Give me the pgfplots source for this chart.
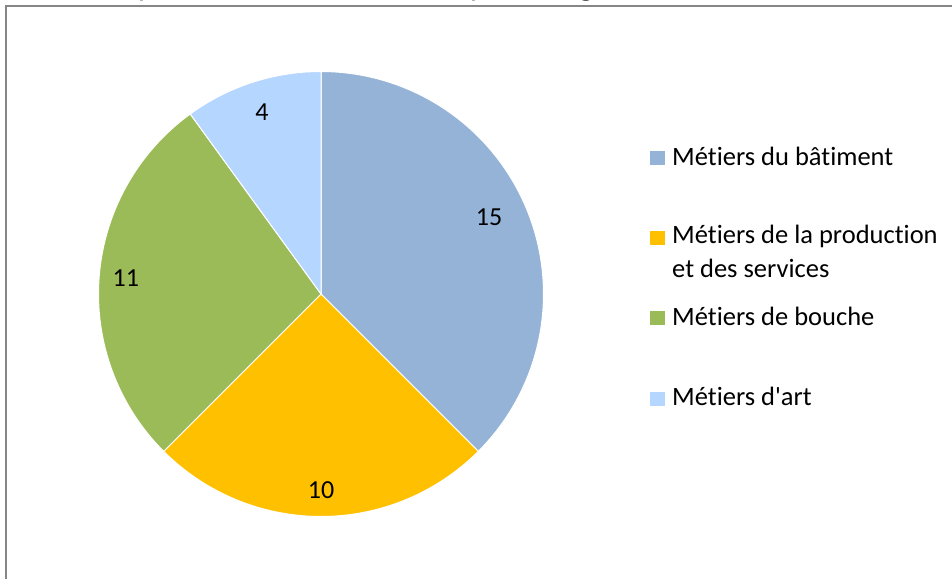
\documentclass[border=0pt]{standalone}
\usepackage{fontspec}
\setmainfont{Carlito}[Ligatures={TeXOff,CommonOff}]
\usepackage{pgfplots}
\usepackage{pgfplotstable}
\pgfplotsset{compat=1.18}
\definecolor{cA}{RGB}{149,179,215}
\definecolor{cB}{RGB}{255,192,0}
\definecolor{cC}{RGB}{155,187,89}
\definecolor{cD}{RGB}{181,214,255}
\definecolor{frame}{RGB}{134,134,134}

\pgfplotstableread{
cat value
A 15
B 10
C 11
D 4
}\datatable

\pgfplotstablegetelem{0}{value}\of\datatable \let\va\pgfplotsretval
\pgfplotstablegetelem{1}{value}\of\datatable \let\vb\pgfplotsretval
\pgfplotstablegetelem{2}{value}\of\datatable \let\vc\pgfplotsretval
\pgfplotstablegetelem{3}{value}\of\datatable \let\vd\pgfplotsretval
\pgfmathsetmacro\total{\va+\vb+\vc+\vd}
\pgfmathsetmacro\aA{90}
\pgfmathsetmacro\aB{\aA-360*\va/\total}
\pgfmathsetmacro\aC{\aB-360*\vb/\total}
\pgfmathsetmacro\aD{\aC-360*\vc/\total}
\pgfmathsetmacro\aE{\aD-360*\vd/\total}
\pgfmathsetmacro\mA{(\aA+\aB)/2+2}
\pgfmathsetmacro\mB{(\aB+\aC)/2}
\pgfmathsetmacro\mC{(\aC+\aD)/2}
\pgfmathsetmacro\mD{(\aD+\aE)/2}

\begin{document}
\begin{tikzpicture}
\useasboundingbox (0bp,0bp) rectangle (952bp,579bp);
\draw[frame, line width=2bp] (6bp,-20bp) -- (6bp,573bp) -- (990bp,573bp);
\node[anchor=base west, inner sep=0pt, font=\fontsize{33bp}{40bp}\selectfont] at (104bp,583.5bp)
  {Répartition des formations par catégorie de métiers (en nombre)};
\begin{axis}[
  at={(321bp,285bp)}, anchor=origin,
  x=222.5bp, y=222.5bp,
  xmin=-1.05, xmax=1.05, ymin=-1.05, ymax=1.05,
  hide axis, clip=false,
  trig format plots=deg,
]
\addplot[fill=cA, draw=white, line width=1bp, domain=\aB:\aA, samples=120, variable=\t] ({cos(\t)},{sin(\t)}) -- (axis cs:0,0) -- cycle;
\addplot[fill=cB, draw=white, line width=1bp, domain=\aC:\aB, samples=120, variable=\t] ({cos(\t)},{sin(\t)}) -- (axis cs:0,0) -- cycle;
\addplot[fill=cC, draw=white, line width=1bp, domain=\aD:\aC, samples=120, variable=\t] ({cos(\t)},{sin(\t)}) -- (axis cs:0,0) -- cycle;
\addplot[fill=cD, draw=white, line width=1bp, domain=\aE:\aD, samples=120, variable=\t] ({cos(\t)},{sin(\t)}) -- (axis cs:0,0) -- cycle;
\path[font=\fontsize{26bp}{31bp}\selectfont]
  (axis cs:{0.83*cos(\mA)},{0.83*sin(\mA)}) node {\va}
  (axis cs:{0.88*cos(\mB)},{0.88*sin(\mB)}) node {\vb}
  (axis cs:{0.88*cos(\mC)},{0.88*sin(\mC)}) node {\vc}
  (axis cs:{0.86*cos(\mD)},{0.86*sin(\mD)}) node {\vd};
\end{axis}
\begin{scope}[font=\fontsize{26.5bp}{32bp}\selectfont]
\fill[cA] (650bp,414bp) rectangle (665bp,428bp);
\node[anchor=base west, inner sep=0pt] at (672bp,413bp) {Métiers du bâtiment};
\fill[cB] (650bp,334bp) rectangle (665bp,348bp);
\node[anchor=base west, inner sep=0pt] at (672bp,335bp) {Métiers de la production};
\node[anchor=base west, inner sep=0pt] at (672bp,301bp) {et des services};
\fill[cC] (650bp,254bp) rectangle (665bp,268bp);
\node[anchor=base west, inner sep=0pt] at (672bp,253bp) {Métiers de bouche};
\fill[cD] (650bp,173bp) rectangle (665bp,187bp);
\node[anchor=base west, inner sep=0pt] at (672bp,173bp) {Métiers d'art};
\end{scope}
\end{tikzpicture}
\end{document}
